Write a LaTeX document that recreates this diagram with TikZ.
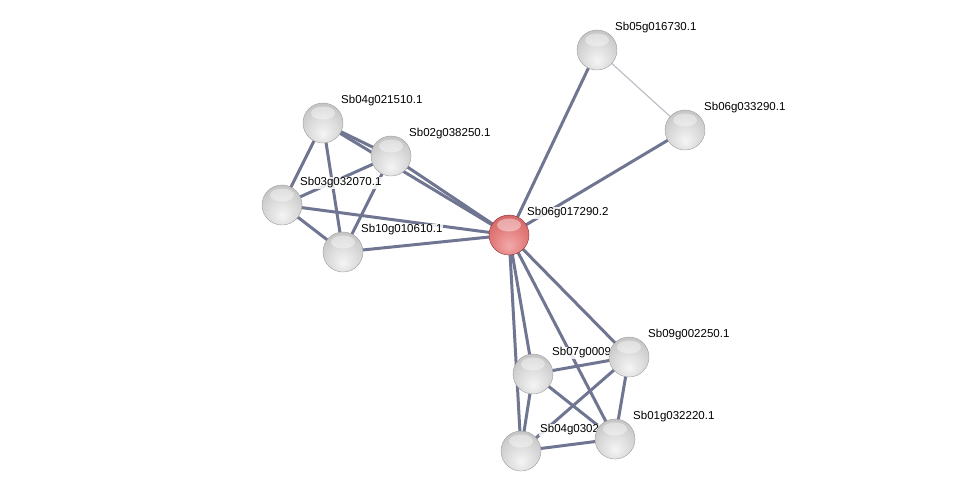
\documentclass[tikz,border=0pt]{standalone}
\usepackage{fontspec}
\setmainfont{Liberation Sans}
\usetikzlibrary{calc}
\definecolor{edgec}{RGB}{112,118,145}
\definecolor{weakc}{RGB}{190,192,200}
\definecolor{r0}{RGB}{242,170,170}
\definecolor{r1}{RGB}{228,125,125}
\definecolor{r2}{RGB}{208,98,98}
\definecolor{r3}{RGB}{176,70,70}
\definecolor{r4}{RGB}{140,50,50}
\pgfdeclareradialshading{graysphere}{\pgfpoint{0bp}{-14bp}}{%
  color(0bp)=(white!96!black); color(20bp)=(white!85!black); color(36bp)=(white!75!black);
  color(48bp)=(white!62!black); color(64bp)=(white!48!black); color(70bp)=(white!44!black)}
\pgfdeclareradialshading{redsphere}{\pgfpoint{0bp}{-14bp}}{%
  color(0bp)=(r0); color(20bp)=(r1); color(36bp)=(r2);
  color(48bp)=(r3); color(64bp)=(r4); color(70bp)=(r4)}
\begin{document}
\begin{tikzpicture}[x=1pt,y=-1pt,
  prot/.style={circle,minimum size=40pt,inner sep=0pt,shading=graysphere,draw=gray!75,line width=0.4pt},
  hub/.style={prot,shading=redsphere,draw=r4},
  shine/.style={fill=white,opacity=0.4},
  lbl/.style={anchor=west,font=\fontsize{11.5}{12}\selectfont,inner xsep=1pt,inner ysep=0.2pt,fill=white,fill opacity=0.85,text opacity=1},
  edge/.style={draw=edgec,line width=3pt},
  weak/.style={draw=weakc,line width=1.2pt}]
\useasboundingbox (0,0) rectangle (975,496);
\fill[white] (0,0) rectangle (975,496);
% node positions
\coordinate (pA) at (597,50);
\coordinate (pB) at (685,130);
\coordinate (pC) at (323,123);
\coordinate (pD) at (391,156);
\coordinate (pE) at (282,205);
\coordinate (pF) at (343,252);
\coordinate (pR) at (509,235);
\coordinate (pG) at (629,357);
\coordinate (pH) at (533,374);
\coordinate (pI) at (615,439);
\coordinate (pJ) at (521,451);
% edges
\draw[weak] (pA) -- (pB);
\foreach \a/\b in {R/A,R/B,R/C,R/D,R/E,R/F,C/D,C/E,C/F,D/E,D/F,E/F,
  R/G,R/H,R/I,R/J,H/G,H/J,H/I,G/J,G/I,J/I}{\draw[edge] (p\a) -- (p\b);}
% labels
\node[lbl] (lA) at ($(pA)+(17,-22)$) {Sb05g016730.1};
\node[lbl] (lB) at ($(pB)+(18,-22)$) {Sb06g033290.1};
\node[lbl] (lC) at ($(pC)+(17,-22)$) {Sb04g021510.1};
\node[lbl] (lD) at ($(pD)+(17,-22)$) {Sb02g038250.1};
\node[lbl] (lE) at ($(pE)+(17,-22)$) {Sb03g032070.1};
\node[lbl] (lF) at ($(pF)+(17,-22)$) {Sb10g010610.1};
\node[lbl] (lR) at ($(pR)+(17,-22)$) {Sb06g017290.2};
\node[lbl] (lG) at ($(pG)+(18,-22)$) {Sb09g002250.1};
\node[lbl] (lH) at ($(pH)+(18,-21)$) {Sb07g0009};
\node[lbl] (lI) at ($(pI)+(17,-22)$) {Sb01g032220.1};
\node[lbl] (lJ) at ($(pJ)+(18,-21)$) {Sb04g0302};
% proteins
\foreach \n in {A,B,C,D,E,F}{
  \node[prot] (\n) at (p\n) {};
  \fill[shine] ($(p\n)+(0,-10)$) ellipse (12 and 6.5);}
\node[hub] (R) at (pR) {};
\fill[shine] ($(pR)+(0,-10)$) ellipse (12 and 6.5);
\foreach \n in {H,G,J,I}{
  \node[prot] (\n) at (p\n) {};
  \fill[shine] ($(p\n)+(0,-10)$) ellipse (12 and 6.5);}
\end{tikzpicture}
\end{document}
